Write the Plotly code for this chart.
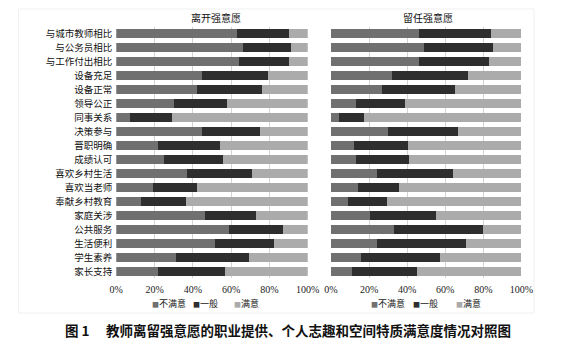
import plotly.graph_objects as go

categories = ["与城市教师相比", "与公务员相比", "与工作付出相比", "设备充足", "设备正常",
              "领导公正", "同事关系", "决策参与", "晋职明确", "成绩认可", "喜欢乡村生活",
              "喜欢当老师", "奉献乡村教育", "家庭关涉", "公共服务", "生活便利", "学生素养", "家长支持"]

leave_unsat = [63, 66, 64, 45, 42, 30, 7, 45, 22, 25, 37, 19, 13, 46.5, 59, 51.5, 31, 22]
leave_mid = [27, 25, 26, 34, 34, 28, 22, 30, 32, 31, 34, 23, 23.5, 26.5, 28, 31, 38.5, 35]
leave_sat = [10, 9, 10, 21, 24, 42, 71, 25, 46, 44, 29, 58, 63.5, 27, 13, 17.5, 30.5, 43]

stay_unsat = [46, 49, 46, 32, 27, 13, 4, 30, 12, 13, 24, 14, 9, 20.5, 33, 24, 16, 11]
stay_mid = [38, 36, 37, 40, 38, 26, 13.5, 36.5, 28.5, 28, 40, 21.5, 20.5, 34.5, 47, 47, 41, 34]
stay_sat = [16, 15, 17, 28, 35, 61, 82.5, 33.5, 59.5, 59, 36, 64.5, 70.5, 45, 20, 29, 43, 55]

series_names = ["不满意", "一般", "满意"]
colors = ["#707070", "#2e2e2e", "#ababab"]
panel_titles = ["离开强意愿", "留任强意愿"]
tick_vals = [0, 20, 40, 60, 80, 100]
tick_text = ["0%", "20%", "40%", "60%", "80%", "100%"]
caption = "图 1　 教师离留强意愿的职业提供、个人志趣和空间特质满意度情况对照图"

W, H = 576, 352
font_cjk = "Noto Sans CJK SC"

fig = go.Figure()
for panel, data in enumerate([(leave_unsat, leave_mid, leave_sat), (stay_unsat, stay_mid, stay_sat)]):
    xa = "x" if panel == 0 else "x2"
    ya = "y" if panel == 0 else "y2"
    for name, vals, col in zip(series_names, data, colors):
        fig.add_trace(go.Bar(
            x=vals, y=categories, orientation="h", name=name,
            marker=dict(color=col, line=dict(width=0)),
            xaxis=xa, yaxis=ya, showlegend=False,
        ))

ydom = [1 - 278 / H, 1 - 26 / H]
axis_common = dict(range=[0, 100], tickvals=tick_vals, ticktext=tick_text,
                   showgrid=True, gridcolor="#d4d4d4", gridwidth=1, zeroline=False,
                   showline=False, ticks="", ticklabelstandoff=4,
                   tickfont=dict(family="Liberation Serif", size=10, color="#222"))
fig.update_layout(
    width=W, height=H, margin=dict(l=0, r=0, t=0, b=0),
    paper_bgcolor="white", plot_bgcolor="white",
    barmode="stack", bargap=0.36, showlegend=False,
    xaxis=dict(domain=[113 / W, 311 / W], anchor="y", **axis_common),
    xaxis2=dict(domain=[335 / W, 532 / W], anchor="y2", **axis_common),
    yaxis=dict(domain=ydom, autorange="reversed", showgrid=False, ticks="",
               tickfont=dict(family=font_cjk, size=9.5, color="#111"), ticklabelstandoff=3),
    yaxis2=dict(domain=ydom, autorange="reversed", showgrid=False, showticklabels=False, anchor="x2"),
)

for t, xc in zip(panel_titles, [216, 435]):
    fig.add_annotation(text=t, x=xc / W, y=1 - 17 / H, xref="paper", yref="paper",
                       xanchor="center", yanchor="middle",
                       showarrow=False, font=dict(family=font_cjk, size=10, color="#111"))

# legends (one under each panel)
legend_x = [[148, 190, 233], [374, 418, 462]]
for xs in legend_x:
    for name, col, xp in zip(series_names, colors, xs):
        fig.add_annotation(
            text="<span style='color:%s;font-size:7px'>■</span>%s" % (col, name),
            x=xp / W, y=1 - 303 / H, xref="paper", yref="paper",
            xanchor="left", yanchor="middle", showarrow=False,
            font=dict(family=font_cjk, size=9, color="#222"))

fig.add_annotation(text="<b>" + caption + "</b>", x=291 / W, y=1 - 330 / H, xref="paper", yref="paper",
                   xanchor="center", yanchor="middle",
                   showarrow=False, font=dict(family=font_cjk, size=13.5, color="#111"))

fig.add_shape(type="rect", xref="paper", yref="paper", x0=12 / W, x1=545 / W, y0=1 - 313 / H, y1=1 - 8 / H,
              line=dict(color="#f0f0f0", width=1), layer="below")

fig.write_html("out.html")
